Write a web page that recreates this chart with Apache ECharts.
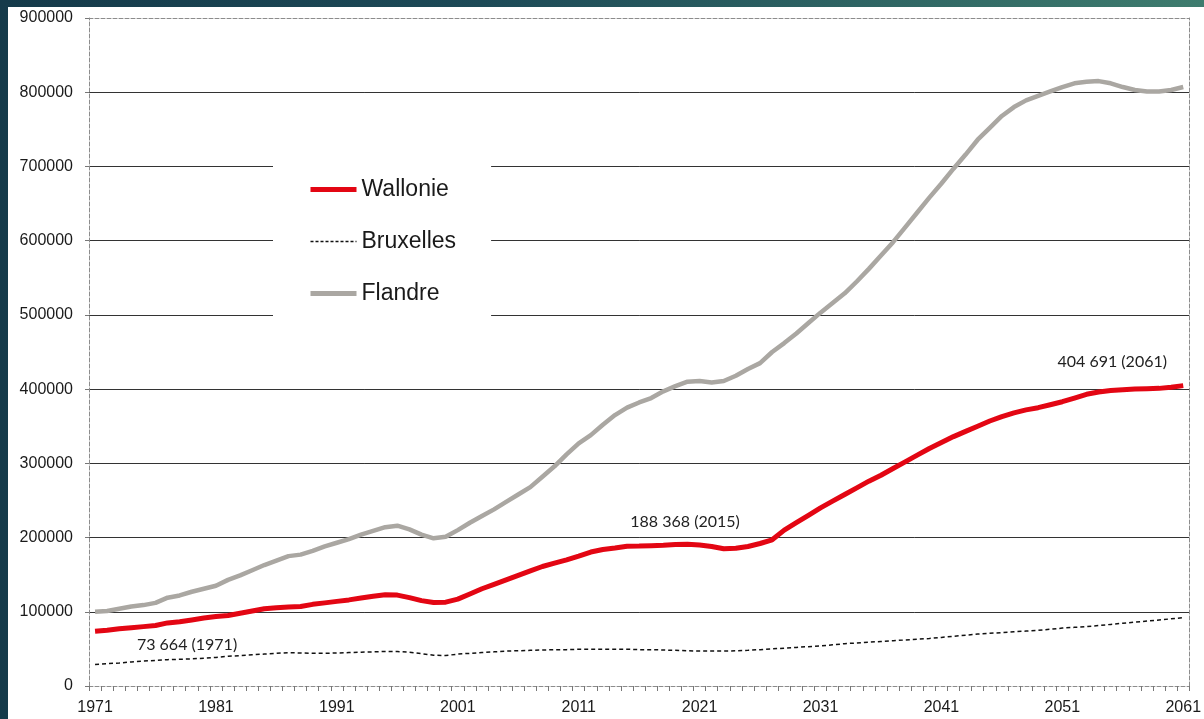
<!DOCTYPE html>
<html>
<head>
<meta charset="utf-8">
<script src="https://cdn.jsdelivr.net/npm/echarts@6/dist/echarts.min.js"></script>
<style>
  html, body { margin: 0; padding: 0; width: 1204px; height: 719px; overflow: hidden;
    background: linear-gradient(to right, #153a4a 0%, #1d4a57 40%, #3e7c6e 100%); }
  #chart { position: absolute; left: 8px; top: 7px; width: 1196px; height: 712px; background: #ffffff; }
</style>
</head>
<body>
<div id="chart"></div>
<script>
const years = [];
for (let y = 1971; y <= 2061; y++) years.push(String(y));

const wallonie = [
  73664, 75000, 77000, 78500, 80000, 81500, 85000, 86500, 89000, 91500,
  93500, 95000, 98000, 101000, 104000, 105500, 106500, 107000, 110000, 112000,
  114000, 116000, 118500, 121000, 123000, 122500, 119000, 115000, 112500, 113000,
  117000, 124000, 131000, 137000, 143000, 149000, 155000, 161000, 165500, 170000,
  175000, 180500, 184000, 186000, 188368, 188500, 189000, 189500, 190500, 191000,
  190000, 188000, 185000, 185500, 188000, 192000, 197000, 210000, 220000, 230000,
  240000, 249000, 258000, 267000, 276000, 284000, 293000, 302000, 311000, 320000,
  328000, 336000, 343000, 350000, 357000, 363000, 368000, 372000, 375000, 379000,
  383000, 388000, 393000, 396000, 398000, 399000, 400000, 400500, 401000, 402500,
  404691
];

const bruxelles = [
  29000, 30000, 31000, 32500, 33500, 34500, 35500, 36000, 36500, 37500,
  38500, 40000, 41000, 42000, 43000, 44000, 45000, 44500, 44000, 44000,
  44500, 45000, 45500, 46000, 46500, 46500, 45500, 43500, 41500, 41000,
  43000, 44000, 45000, 46000, 47000, 47500, 48000, 48500, 49000, 49000,
  49500, 49500, 49500, 49500, 49500, 49000, 49000, 48500, 48000, 47500,
  47000, 47000, 47000, 47500, 48000, 49000, 50000, 51000, 52000, 53000,
  54000, 55500, 57000, 58000, 59000, 60000, 61000, 62000, 63000, 64000,
  65500, 67000, 68500, 70000, 71000, 72000, 73000, 74000, 75000, 76500,
  78000, 79000, 80000, 81500, 83000, 84500, 86000, 87500, 89000, 90500,
  92000
];

const flandre = [
  100000, 101000, 104000, 107000, 109000, 112000, 119000, 122000, 127000, 131000,
  135000, 143000, 149000, 156000, 163000, 169000, 175000, 177000, 182000, 188000,
  193000, 198000, 204000, 209000, 214000, 216000, 211000, 204000, 199000, 201000,
  210000, 220000, 229000, 238000, 248000, 258000, 268000, 282000, 296000, 312000,
  327000, 338000, 352000, 365000, 375000, 382000, 388000, 397000, 404000, 410000,
  411000, 409000, 411000, 418000, 427000, 435000, 450000, 462000, 475000, 489000,
  503000, 516000, 529000, 545000, 562000, 580000, 598000, 618000, 638000, 658000,
  677000, 697000, 716000, 736000, 752000, 768000, 780000, 789000, 795000, 801000,
  807000, 812000, 814000, 815000, 812000, 807000, 803000, 801000, 801000, 803000,
  807000
];

const seriesNames = ['Wallonie', 'Bruxelles', 'Flandre'];
const annotations = [
  { year: '1971', value: 73664, text: '73 664 (1971)' },
  { year: '2015', value: 188368, text: '188 368 (2015)' },
  { year: '2061', value: 404691, text: '404 691 (2061)' }
];
const annotationOffsets = [[92, 14], [58, -24], [-71, -24]];

const colors = { Wallonie: '#e30613', Bruxelles: '#111111', Flandre: '#aaa7a2' };
const legendLine = {
  Wallonie: { color: colors.Wallonie, width: 5, type: 'solid' },
  Bruxelles: { color: colors.Bruxelles, width: 1.5, type: [3, 2] },
  Flandre: { color: colors.Flandre, width: 5, type: 'solid' }
};

const chart = echarts.init(document.getElementById('chart'));
const borderLine = { show: true, lineStyle: { color: '#8c8c8c', width: 1, type: [4, 2] } };

chart.setOption({
  animation: false,
  grid: { left: 81, top: 11, width: 1108, height: 668 },
  legend: {
    orient: 'vertical',
    left: 265,
    top: 151,
    padding: [20, 35, 20, 35],
    backgroundColor: '#ffffff',
    itemWidth: 46,
    itemHeight: 14,
    itemGap: 29,
    itemStyle: { opacity: 0 },
    data: seriesNames.map(function (n) {
      return { name: n, lineStyle: legendLine[n], itemStyle: { opacity: 0 } };
    }),
    textStyle: { fontFamily: 'Liberation Sans', fontSize: 23, color: '#1a1a1a', lineHeight: 22 }
  },
  xAxis: [
    {
      type: 'category',
      data: years,
      boundaryGap: true,
      axisLine: { show: true, onZero: false, lineStyle: { color: '#8c8c8c', width: 1, type: [4, 2] } },
      axisTick: { show: true, interval: 0, length: 5, lineStyle: { color: '#777' } },
      axisLabel: { interval: 9, margin: 14, fontFamily: 'Liberation Sans', fontSize: 16, color: '#1a1a1a' },
      splitLine: { show: false }
    },
    {
      type: 'category',
      data: years,
      position: 'top',
      axisLine: Object.assign({ onZero: false }, borderLine),
      axisTick: { show: false },
      axisLabel: { show: false },
      splitLine: { show: false }
    }
  ],
  yAxis: [
    {
      type: 'value',
      min: 0,
      max: 900000,
      interval: 100000,
      axisLine: { show: true, lineStyle: { color: '#8c8c8c', width: 1, type: [4, 2] } },
      axisTick: { show: true, length: 4, lineStyle: { color: '#777' } },
      axisLabel: {
        margin: 16, fontFamily: 'Liberation Sans', fontSize: 16, color: '#1a1a1a',
        formatter: function (v) { return String(v); }
      },
      splitLine: { show: true, showMinLine: false, showMaxLine: false, lineStyle: { color: '#333', width: 1 } }
    },
    {
      type: 'value',
      min: 0,
      max: 900000,
      interval: 100000,
      position: 'right',
      axisLine: borderLine,
      axisTick: { show: false },
      axisLabel: { show: false },
      splitLine: { show: false }
    }
  ],
  series: [
    {
      name: 'Wallonie',
      type: 'line',
      data: wallonie,
      symbol: 'none',
      z: 4,
      lineStyle: { color: colors.Wallonie, width: 5 },
      itemStyle: { color: colors.Wallonie },
      markPoint: {
        symbol: 'circle',
        symbolSize: 1,
        itemStyle: { color: 'rgba(0,0,0,0)' },
        label: {
          show: true,
          position: 'inside',
          fontFamily: 'Lato',
          fontSize: 16,
          color: '#222'
        },
        data: annotations.map(function (a, i) {
          return {
            coord: [a.year, a.value],
            label: { formatter: a.text, offset: annotationOffsets[i] }
          };
        })
      }
    },
    {
      name: 'Bruxelles',
      type: 'line',
      data: bruxelles,
      symbol: 'none',
      z: 3,
      lineStyle: { color: colors.Bruxelles, width: 1.5, type: [4, 3] },
      itemStyle: { color: colors.Bruxelles }
    },
    {
      name: 'Flandre',
      type: 'line',
      data: flandre,
      symbol: 'none',
      z: 3,
      lineStyle: { color: colors.Flandre, width: 4.5 },
      itemStyle: { color: colors.Flandre }
    }
  ]
});
</script>
</body>
</html>
